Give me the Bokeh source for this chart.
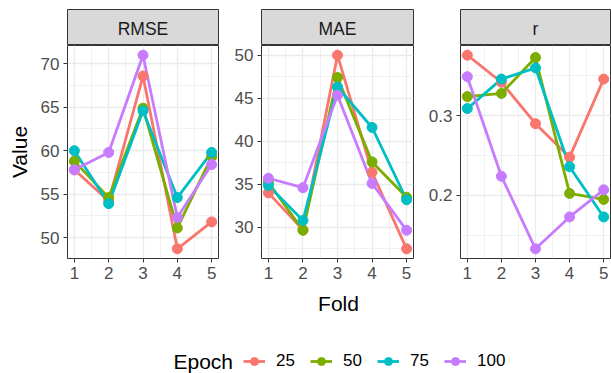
from bokeh.plotting import figure
from bokeh.layouts import row, column
from bokeh.models import FixedTicker, Legend, LegendItem, Label, ColumnDataSource
from bokeh.core.properties import value
from bokeh.embed import file_html
from bokeh.resources import INLINE

# ---------------- data ----------------
folds = [1, 2, 3, 4, 5]
epochs = ["25", "50", "75", "100"]
metrics = ["RMSE", "MAE", "r"]

rmse_25 = [57.8, 54.2, 68.6, 48.7, 51.8]
rmse_50 = [58.8, 54.6, 64.9, 51.1, 59.3]
rmse_75 = [60.0, 53.9, 64.6, 54.6, 59.8]
rmse_100 = [57.8, 59.8, 71.0, 52.3, 58.4]

mae_25 = [34.0, 29.7, 50.0, 36.4, 27.5]
mae_50 = [35.2, 29.65, 47.4, 37.6, 33.5]
mae_75 = [34.85, 30.8, 46.3, 41.6, 33.2]
mae_100 = [35.7, 34.6, 45.35, 35.1, 29.65]

r_25 = [0.376, 0.342, 0.290, 0.248, 0.346]
r_50 = [0.324, 0.328, 0.373, 0.2025, 0.195]
r_75 = [0.309, 0.346, 0.360, 0.236, 0.173]
r_100 = [0.349, 0.224, 0.133, 0.173, 0.207]

x_major = [1, 2, 3, 4, 5]
x_minor = [0.5, 1.5, 2.5, 3.5, 4.5, 5.5]
rmse_major = [50, 55, 60, 65, 70]
rmse_minor = [47.5, 52.5, 57.5, 62.5, 67.5, 72.5]
mae_major = [30, 35, 40, 45, 50]
mae_minor = [27.5, 32.5, 37.5, 42.5, 47.5, 52.5]
r_major = [0.2, 0.3]
r_minor = [0.15, 0.25, 0.35]

colors = ["#F8766D", "#7CAE00", "#00BFC4", "#C77CFF"]
FONT = "Liberation Sans"

panels = [
    ("RMSE", [rmse_25, rmse_50, rmse_75, rmse_100], rmse_major, rmse_minor),
    ("MAE", [mae_25, mae_50, mae_75, mae_100], mae_major, mae_minor),
    ("r", [r_25, r_50, r_75, r_100], r_major, r_minor),
]

# layout geometry (pixels)
fig_w = [219, 195, 197]
border_l = [67, 42, 46]
border_r = [1, 1, 1]
strip_h = 45
panel_h = 245


def expand(vals, frac=0.05):
    lo, hi = min(vals), max(vals)
    d = (hi - lo) * frac
    return lo - d, hi + d


cols = []
for i, (name, series, ymaj, ymin) in enumerate(panels):
    # strip
    s = figure(width=fig_w[i], height=strip_h, x_range=(0, 1), y_range=(0, 1),
               x_axis_type=None, y_axis_type=None, toolbar_location=None,
               output_backend="svg", min_border_left=border_l[i],
               min_border_right=border_r[i], min_border_top=9, min_border_bottom=0)
    s.grid.visible = False
    s.background_fill_color = "#D9D9D9"
    s.outline_line_color = "#333333"
    s.outline_line_width = 1
    s.text(x=[0.5], y=[0.45], text=[name], text_align="center", text_baseline="middle",
           text_font=value(FONT), text_font_size="17.5px", text_color="#1A1A1A")

    allv = [v for ser in series for v in ser]
    xr = expand(folds)
    yr = expand(allv)
    p = figure(width=fig_w[i], height=panel_h, x_range=xr, y_range=yr,
               toolbar_location=None, output_backend="svg",
               min_border_left=border_l[i], min_border_right=border_r[i],
               min_border_top=0, min_border_bottom=32)
    p.background_fill_color = "white"
    p.outline_line_color = "#333333"
    p.outline_line_width = 1
    p.xaxis.ticker = FixedTicker(ticks=x_major, minor_ticks=x_minor)
    p.yaxis.ticker = FixedTicker(ticks=ymaj, minor_ticks=ymin)
    for ax in (p.xaxis[0], p.yaxis[0]):
        ax.axis_line_color = None
        ax.major_tick_line_color = "#333333"
        ax.major_tick_out = 4
        ax.major_tick_in = 0
        ax.minor_tick_line_color = None
        ax.major_label_text_font = FONT
        ax.major_label_text_font_size = "17px"
        ax.major_label_text_color = "#4D4D4D"
        ax.major_label_standoff = 4
    for g in (p.xgrid[0], p.ygrid[0]):
        g.grid_line_color = "#EBEBEB"
        g.grid_line_width = 1.3
        g.minor_grid_line_color = "#EBEBEB"
        g.minor_grid_line_width = 0.7
    if i == 0:
        p.yaxis.axis_label = "Value"
        p.yaxis.axis_label_text_font = FONT
        p.yaxis.axis_label_text_font_size = "21px"
        p.yaxis.axis_label_text_font_style = "normal"
        p.yaxis.axis_label_text_color = "black"
        p.yaxis.axis_label_standoff = 7
    for ser, c in zip(series, colors):
        p.line(folds, ser, line_color=c, line_width=2.8)
    for ser, c in zip(series, colors):
        p.scatter(folds, ser, size=10, fill_color=c, line_color=c, marker="circle")
    cols.append(column(s, p, spacing=0))

# bottom: axis title + legend
b = figure(width=611, height=83, x_range=(0, 611), y_range=(0, 83),
           x_axis_type=None, y_axis_type=None, toolbar_location=None,
           output_backend="svg", min_border=0)
b.grid.visible = False
b.outline_line_color = None
b.add_layout(Label(x=338, y=70, x_units="screen", y_units="screen", text="Fold",
                   text_align="center", text_baseline="middle", text_font=FONT,
                   text_font_size="21px", text_color="black"))
b.add_layout(Label(x=173, y=12, x_units="screen", y_units="screen", text="Epoch",
                   text_align="left", text_baseline="middle", text_font=FONT,
                   text_font_size="21px", text_color="black"))
hidden = ColumnDataSource(data=dict(x=[-1000, -999], y=[-1000, -1000]))
items = []
for ep, c in zip(epochs, colors):
    lr = b.line("x", "y", source=hidden, line_color=c, line_width=2.8)
    sr = b.scatter("x", "y", source=hidden, size=10, fill_color=c, line_color=c)
    items.append(LegendItem(label=ep, renderers=[lr, sr]))
leg = Legend(items=items, orientation="horizontal", location=(243, 2),
             glyph_width=22, glyph_height=20, label_height=20, label_standoff=11,
             spacing=14, padding=0, margin=0, border_line_color=None,
             background_fill_alpha=0, label_text_font=FONT,
             label_text_font_size="17px", label_text_color="black")
b.add_layout(leg)

layout = column(row(*cols, spacing=0), b, spacing=0)
open("out.html", "w").write(file_html(layout, INLINE))
